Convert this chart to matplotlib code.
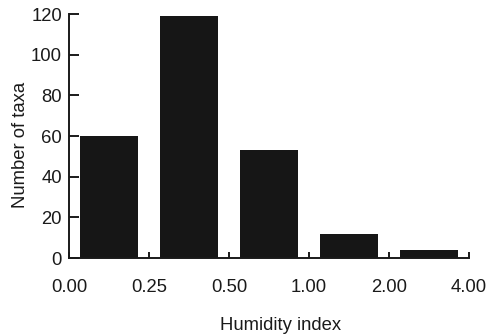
import matplotlib
matplotlib.use("Agg")
import matplotlib.pyplot as plt

# humidity index classes (bin edges) and number of taxa per class
edges = ["0.00", "0.25", "0.50", "1.00", "2.00", "4.00"]
counts = [60, 119, 53, 12, 4]

plt.rcParams["font.family"] = ["Liberation Sans", "DejaVu Sans"]
FS = 13.3
INK = "#1a1a1a"

fig = plt.figure(figsize=(5.02, 3.36), dpi=100)
ax = fig.add_axes([0.1375, 0.232, 0.797, 0.726])

pos = [i + 0.5 for i in range(len(counts))]
ax.bar(pos, counts, width=0.73, color="#161616", edgecolor="none")

ax.set_xlim(0, len(counts))
ax.set_ylim(0, 120)
ax.set_xticks(range(len(edges)))
ax.set_xticklabels(edges)
ax.set_yticks(range(0, 121, 20))

for s in ("top", "right"):
    ax.spines[s].set_visible(False)
for s in ("left", "bottom"):
    ax.spines[s].set_linewidth(1.4)
    ax.spines[s].set_color(INK)

ax.tick_params(axis="y", direction="in", length=7, width=1.4, pad=5,
               labelsize=FS, colors=INK)
ax.tick_params(axis="x", direction="in", length=4.5, width=1.4, pad=15,
               labelsize=FS, colors=INK)

ax.set_xlabel("Humidity index", fontsize=FS, color=INK, va="center")
ax.set_ylabel("Number of taxa", fontsize=FS, color=INK, va="center")
ax.xaxis.set_label_coords(0.529, -0.275)
ax.yaxis.set_label_coords(-0.1225, 0.463)

fig.savefig("out.png", dpi=100)
